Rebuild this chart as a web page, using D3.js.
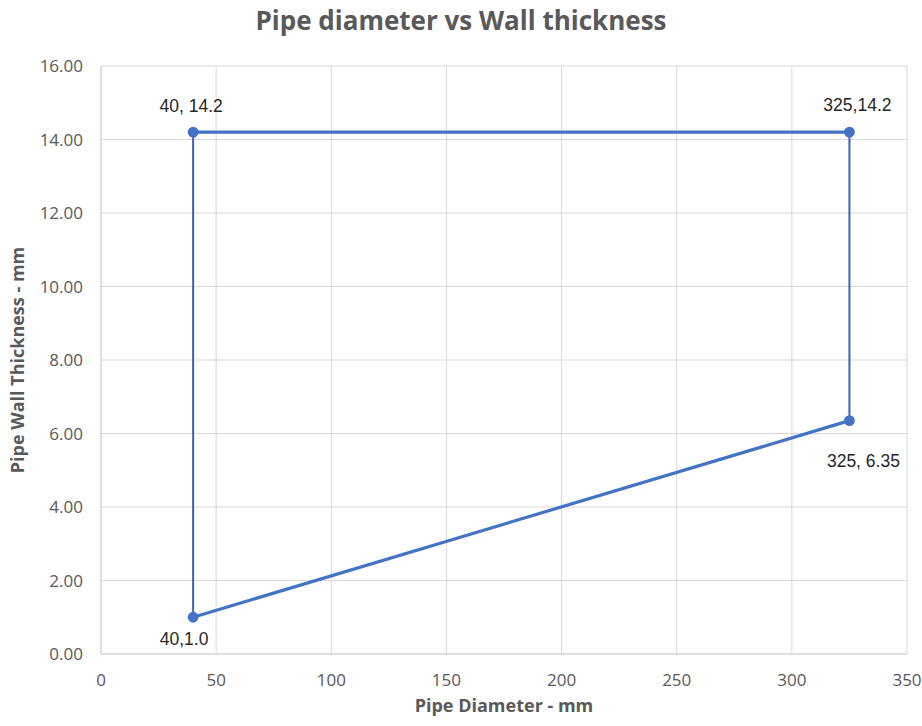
<!DOCTYPE html>
<html><head><meta charset="utf-8">
<script src="https://cdn.jsdelivr.net/npm/d3@7"></script>
<style>body{margin:0;background:#fff;}</style>
</head><body>
<script>
const diameters = [40, 325, 325, 40, 40];
const thicknesses = [14.2, 14.2, 6.35, 1.0, 14.2];
const pointLabels = ["40, 14.2", "325,14.2", "325, 6.35", "40,1.0"];
const xTicks = [0, 50, 100, 150, 200, 250, 300, 350];
const yTicks = [0, 2, 4, 6, 8, 10, 12, 14, 16];

const W = 922, H = 726;
const m = {left: 101, right: 15, top: 66, bottom: 72};
const svg = d3.select("body").append("svg").attr("width", W).attr("height", H);
const x = d3.scaleLinear().domain([0, 350]).range([m.left, W - m.right]);
const y = d3.scaleLinear().domain([0, 16]).range([H - m.bottom, m.top]);

const font = "'Open Sans', Lato, sans-serif";
// grid
svg.append("g").selectAll("line.v").data(xTicks.slice(1)).join("line")
  .attr("x1", d => x(d)).attr("x2", d => x(d)).attr("y1", y(0)).attr("y2", y(16))
  .attr("stroke", "#d9d9d9").attr("stroke-width", 1);
svg.append("g").selectAll("line.h").data(yTicks.slice(1)).join("line")
  .attr("x1", x(0)).attr("x2", x(350)).attr("y1", d => y(d)).attr("y2", d => y(d))
  .attr("stroke", "#d9d9d9").attr("stroke-width", 1);
// axes
svg.append("line").attr("x1", x(0)).attr("x2", x(350)).attr("y1", y(0)).attr("y2", y(0)).attr("stroke", "#bfbfbf");
svg.append("line").attr("x1", x(0)).attr("x2", x(0)).attr("y1", y(0)).attr("y2", y(16)).attr("stroke", "#bfbfbf");

// tick labels
svg.append("g").selectAll("text").data(yTicks).join("text")
  .attr("x", x(0) - 18).attr("y", d => y(d) + 6).attr("text-anchor", "end")
  .attr("font-family", font).attr("font-size", 17).attr("fill", "#595959")
  .text(d => d.toFixed(2));
svg.append("g").selectAll("text").data(xTicks).join("text")
  .attr("x", d => x(d)).attr("y", y(0) + 32).attr("text-anchor", "middle")
  .attr("font-family", font).attr("font-size", 17).attr("fill", "#595959")
  .text(d => d);

// line segments
const pts = diameters.map((d, i) => [d, thicknesses[i]]);
for (let i = 0; i < pts.length - 1; i++) {
  const a = pts[i], b = pts[i + 1];
  const vertical = a[0] === b[0];
  svg.append("line")
    .attr("x1", x(a[0])).attr("y1", y(a[1])).attr("x2", x(b[0])).attr("y2", y(b[1]))
    .attr("stroke", vertical ? "#3a64b5" : "#4472c4").attr("stroke-width", vertical ? 2 : 3.2)
    .attr("stroke-linecap", "round");
}
svg.append("g").selectAll("circle").data(pts.slice(0, 4)).join("circle")
  .attr("cx", d => x(d[0])).attr("cy", d => y(d[1])).attr("r", 5.4).attr("fill", "#4472c4");

// data labels
const lblOff = [[-2, -20], [8, -21], [14, 46], [-9, 28]];
svg.append("g").selectAll("text").data(pts.slice(0, 4)).join("text")
  .attr("x", (d, i) => x(d[0]) + lblOff[i][0]).attr("y", (d, i) => y(d[1]) + lblOff[i][1])
  .attr("text-anchor", "middle").attr("font-family", "'Liberation Sans', Arial, sans-serif")
  .attr("font-size", 17.5).attr("fill", "#262626")
  .text((d, i) => pointLabels[i]);

// titles
svg.append("text").attr("x", 461).attr("y", 30).attr("text-anchor", "middle")
  .attr("font-family", font).attr("font-weight", "bold").attr("font-size", 26).attr("fill", "#595959")
  .text("Pipe diameter vs Wall thickness");
svg.append("text").attr("x", 504).attr("y", 712).attr("text-anchor", "middle")
  .attr("font-family", font).attr("font-weight", "bold").attr("font-size", 18).attr("fill", "#595959")
  .text("Pipe Diameter - mm");
svg.append("text").attr("transform", "translate(24,360) rotate(-90)").attr("text-anchor", "middle")
  .attr("font-family", font).attr("font-weight", "bold").attr("font-size", 18).attr("fill", "#595959")
  .text("Pipe Wall Thickness - mm");
</script>
</body></html>
